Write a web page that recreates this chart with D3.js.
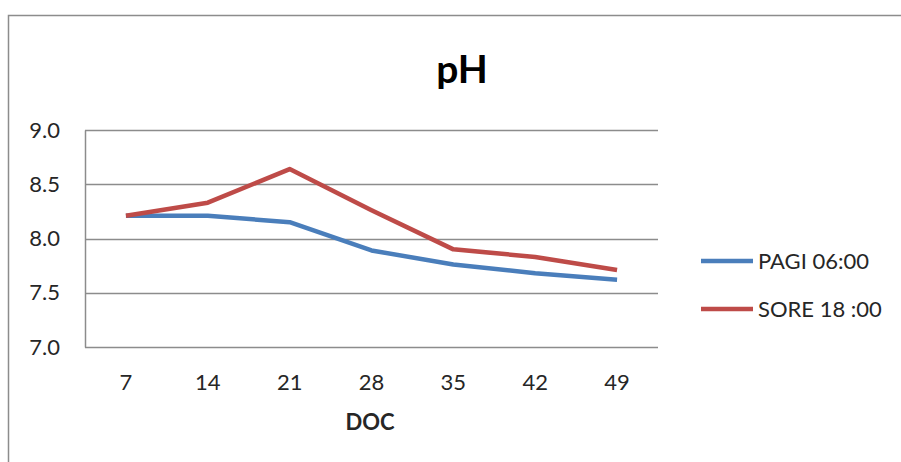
<!DOCTYPE html>
<html>
<head>
<meta charset="utf-8">
<script src="https://cdn.jsdelivr.net/npm/d3@7"></script>
<style>
  body { margin: 0; background: #fff; }
  svg { display: block; }
</style>
</head>
<body>
<div id="chart"></div>
<script>
var days = ["7", "14", "21", "28", "35", "42", "49"];
var pagi = [8.21, 8.21, 8.15, 7.89, 7.76, 7.68, 7.62];
var sore = [8.21, 8.33, 8.64, 8.26, 7.90, 7.83, 7.71];
var yTicks = [7.0, 7.5, 8.0, 8.5, 9.0];
var seriesNames = ["PAGI 06:00", "SORE 18 :00"];
var seriesColors = ["#4A7EBB", "#BE4B48"];

init();

function init() {
    var w = 901, h = 462;
    var font = "Lato, 'Liberation Sans', sans-serif";

    var svg = d3.select("#chart")
        .append("svg")
        .attr("width", w)
        .attr("height", h);

    // outer chart border (runs off right and bottom edges)
    svg.append("rect")
        .attr("x", 8.5)
        .attr("y", 15.5)
        .attr("width", w + 10)
        .attr("height", h + 10)
        .attr("fill", "none")
        .attr("stroke", "#8c8c8c")
        .attr("stroke-width", 1.5);

    var left = 85, right = 658, top = 130, bottom = 347;

    var x = d3.scaleBand()
        .domain(days)
        .range([left, right]);

    var y = d3.scaleLinear()
        .domain([7, 9])
        .range([bottom, top]);

    // title
    svg.append("text")
        .attr("x", 462)
        .attr("y", 83)
        .attr("text-anchor", "middle")
        .attr("font-family", font)
        .attr("font-weight", "bold")
        .attr("font-size", "39px")
        .attr("fill", "#000")
        .text("pH");

    // gridlines
    svg.selectAll(".grid")
        .data(yTicks)
        .enter()
        .append("line")
        .attr("class", "grid")
        .attr("x1", left)
        .attr("x2", right)
        .attr("y1", function(d) { return Math.round(y(d)) + 0.5; })
        .attr("y2", function(d) { return Math.round(y(d)) + 0.5; })
        .attr("stroke", "#8c8c8c")
        .attr("stroke-width", 1.5);

    // left axis line
    svg.append("line")
        .attr("x1", left + 0.5)
        .attr("x2", left + 0.5)
        .attr("y1", Math.round(y(9)) + 0.5)
        .attr("y2", Math.round(y(7)) + 0.5)
        .attr("stroke", "#8c8c8c")
        .attr("stroke-width", 1.5);

    // y tick labels
    svg.selectAll(".ylab")
        .data(yTicks)
        .enter()
        .append("text")
        .attr("class", "ylab")
        .attr("x", 60)
        .attr("y", function(d) { return y(d); })
        .attr("dy", "0.35em")
        .attr("text-anchor", "end")
        .attr("font-family", font)
        .attr("font-size", "22px")
        .attr("fill", "#262626")
        .text(function(d) { return d3.format(".1f")(d); });

    // x tick labels
    svg.selectAll(".xlab")
        .data(days)
        .enter()
        .append("text")
        .attr("class", "xlab")
        .attr("x", function(d) { return x(d) + x.bandwidth() / 2; })
        .attr("y", 382)
        .attr("dy", "0.35em")
        .attr("text-anchor", "middle")
        .attr("font-family", font)
        .attr("font-size", "22px")
        .attr("fill", "#262626")
        .text(function(d) { return d; });

    // x axis title
    svg.append("text")
        .attr("x", 370)
        .attr("y", 422)
        .attr("dy", "0.35em")
        .attr("text-anchor", "middle")
        .attr("font-family", font)
        .attr("font-weight", "bold")
        .attr("font-size", "22px")
        .attr("fill", "#262626")
        .text("DOC");

    var line = d3.line()
        .x(function(d, i) { return x(days[i]) + x.bandwidth() / 2; })
        .y(function(d) { return y(d); });

    var series = [pagi, sore];

    svg.selectAll(".series")
        .data(series)
        .enter()
        .append("path")
        .attr("class", "series")
        .attr("d", line)
        .attr("fill", "none")
        .attr("stroke", function(d, i) { return seriesColors[i]; })
        .attr("stroke-width", 4.5)
        .attr("stroke-linejoin", "round");

    // legend
    var legend = svg.selectAll(".legend")
        .data(seriesNames)
        .enter()
        .append("g")
        .attr("class", "legend")
        .attr("transform", function(d, i) { return "translate(701," + (261 + i * 48) + ")"; });

    legend.append("line")
        .attr("x1", 0)
        .attr("x2", 52)
        .attr("stroke", function(d, i) { return seriesColors[i]; })
        .attr("stroke-width", 4.5);

    legend.append("text")
        .attr("x", 57)
        .attr("dy", "0.35em")
        .attr("font-family", font)
        .attr("font-size", "22px")
        .attr("fill", "#262626")
        .text(function(d) { return d; });
}
</script>
</body>
</html>
